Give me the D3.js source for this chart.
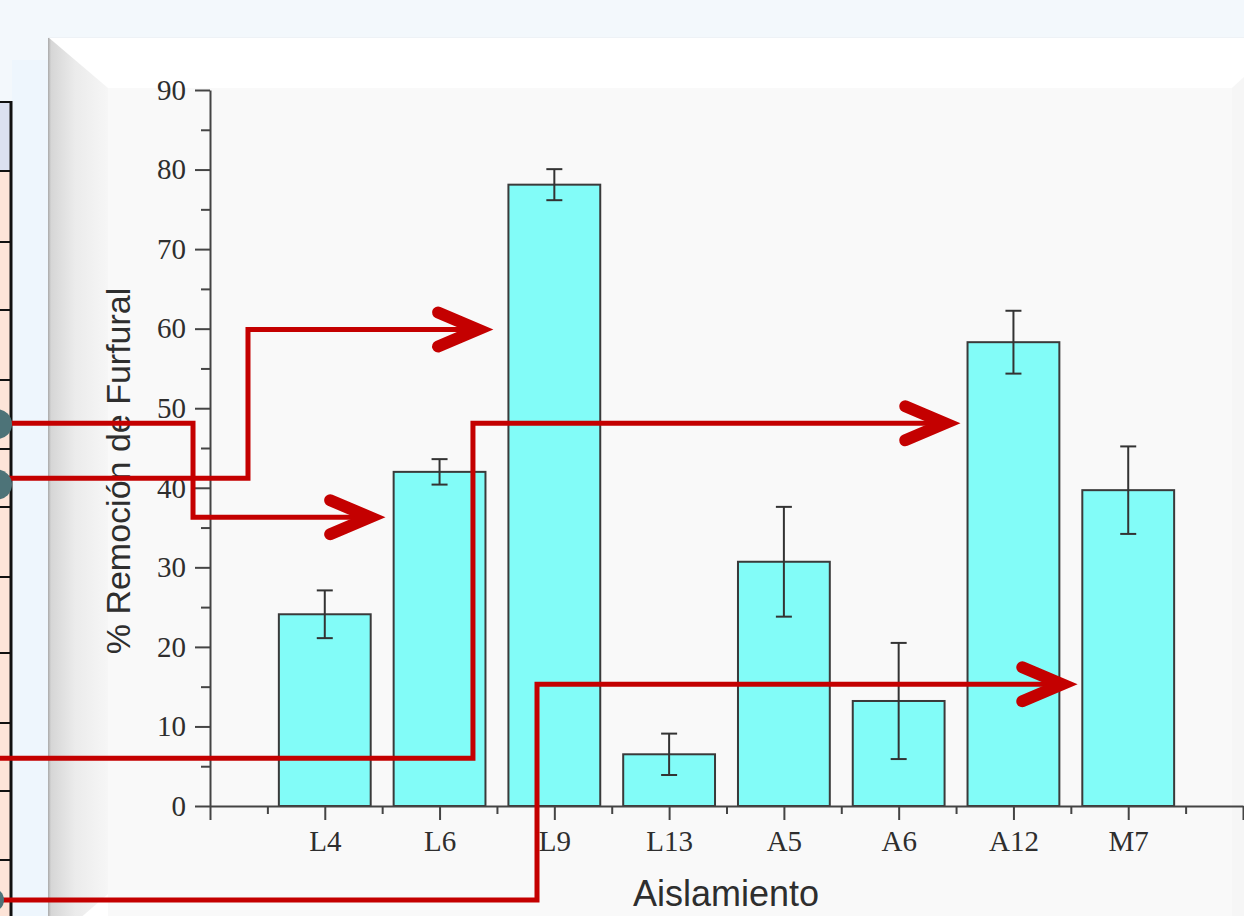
<!DOCTYPE html>
<html><head><meta charset="utf-8">
<script src="https://cdn.jsdelivr.net/npm/d3@7"></script>
<style>html,body{margin:0;padding:0;background:#f3f8fc;overflow:hidden}</style>
</head><body><svg id="c" width="1244" height="916"></svg>
<script>
// ---- data ----
const categories = ["L4", "L6", "L9", "L13", "A5", "A6", "A12", "M7"];
const removal = [24.1, 42.0, 78.1, 6.5, 30.7, 13.2, 58.3, 39.7];
const errors = [3.0, 1.6, 1.95, 2.6, 6.9, 7.3, 3.95, 5.5];
const yTicks = [0, 10, 20, 30, 40, 50, 60, 70, 80, 90];
const yMinorTicks = [5, 15, 25, 35, 45, 55, 65, 75, 85];
const xMajorTicks = [0, 1, 2, 3, 4, 5, 6, 7, 8, 9];
const xMinorTicks = [0.5, 1.5, 2.5, 3.5, 4.5, 5.5, 6.5, 7.5, 8.5];
const yTitle = "% Remoción de Furfural";
const xTitle = "Aislamiento";

// ---- drawing ----
const W = 1244, H = 916;
const svg = d3.select("#c");
const defs = svg.append("defs");

const x = d3.scaleLinear().domain([0, 9]).range([210, 1243]);
const y = d3.scaleLinear().domain([0, 90]).range([806, 90]);

// background decoration
svg.append("rect").attr("width", W).attr("height", H).attr("fill", "#f3f8fc");
// left table fragment
svg.append("rect").attr("x", 0).attr("y", 102).attr("width", 11).attr("height", H).attr("fill", "#fde4d8");
svg.append("rect").attr("x", 0).attr("y", 102).attr("width", 11).attr("height", 69).attr("fill", "#dce1f1");
svg.append("rect").attr("x", 12).attr("y", 60).attr("width", 36).attr("height", H).attr("fill", "#eef6fd");
const rowLines = [102, 171, 242, 310, 380, 449, 507, 577, 653, 723, 791, 860];
svg.selectAll("line.row").data(rowLines).join("line")
  .attr("x1", 0).attr("x2", 11).attr("y1", d => d).attr("y2", d => d)
  .attr("stroke", "#111").attr("stroke-width", 2);
svg.append("line").attr("x1", 11).attr("x2", 11).attr("y1", 101).attr("y2", H)
  .attr("stroke", "#111").attr("stroke-width", 3);

// panel
const lg = defs.append("linearGradient").attr("id", "bev").attr("x1", 0).attr("x2", 1).attr("y1", 0).attr("y2", 0);
lg.append("stop").attr("offset", "0%").attr("stop-color", "#a9a9a9");
lg.append("stop").attr("offset", "5%").attr("stop-color", "#d6d6d6");
lg.append("stop").attr("offset", "45%").attr("stop-color", "#ebebeb");
lg.append("stop").attr("offset", "100%").attr("stop-color", "#f6f6f6");
svg.append("rect").attr("x", 48).attr("y", 37).attr("width", W - 48).attr("height", H - 37).attr("fill", "#ffffff");
svg.append("rect").attr("x", 108).attr("y", 88).attr("width", W - 108).attr("height", H - 88).attr("fill", "#f9f9f9");
svg.append("polygon").attr("points", "48,37 108,88 108,894 48,946").attr("fill", "url(#bev)");
svg.append("polygon").attr("points", "1232,88 1244,77 1244,916 1232,916").attr("fill", "#f6f6f6");
svg.append("line").attr("x1", 48).attr("x2", W).attr("y1", 37.5).attr("y2", 37.5).attr("stroke", "#eef2f6").attr("stroke-width", 1);

const g = svg.append("g");

// bars
const band = (x(1) - x(0)) * 0.8;
g.selectAll("rect.bar").data(removal).join("rect")
  .attr("x", (d, i) => x(i + 1) - band / 2)
  .attr("y", d => y(d))
  .attr("width", band)
  .attr("height", d => y(0) - y(d))
  .attr("fill", "#82fcf8")
  .attr("stroke", "#3a3a3a")
  .attr("stroke-width", 2);

// error bars
const eb = g.selectAll("g.err").data(removal).join("g").attr("stroke", "#333").attr("stroke-width", 2);
eb.append("line").attr("x1", (d, i) => x(i + 1)).attr("x2", (d, i) => x(i + 1))
  .attr("y1", (d, i) => y(d + errors[i])).attr("y2", (d, i) => y(d - errors[i]));
eb.append("line").attr("x1", (d, i) => x(i + 1) - 8).attr("x2", (d, i) => x(i + 1) + 8)
  .attr("y1", (d, i) => y(d + errors[i])).attr("y2", (d, i) => y(d + errors[i]));
eb.append("line").attr("x1", (d, i) => x(i + 1) - 8).attr("x2", (d, i) => x(i + 1) + 8)
  .attr("y1", (d, i) => y(d - errors[i])).attr("y2", (d, i) => y(d - errors[i]));

// axes
function styleAxis(sel) {
  sel.selectAll("path.domain").attr("stroke", "#444").attr("stroke-width", 2);
  sel.selectAll(".tick line").attr("stroke", "#444").attr("stroke-width", 2);
  sel.selectAll("text").attr("fill", "#2e2e2e").style("font-family", "'Liberation Serif', 'Times New Roman', serif").style("font-size", "29px");
}
const yAxisMinor = g.append("g").attr("transform", `translate(${x(0)},0)`)
  .call(d3.axisLeft(y).tickValues(yMinorTicks).tickSize(9).tickFormat(""));
styleAxis(yAxisMinor); yAxisMinor.select(".domain").remove();
const yAxis = g.append("g").attr("transform", `translate(${x(0)},0)`)
  .call(d3.axisLeft(y).tickValues(yTicks).tickSize(15).tickSizeOuter(0).tickPadding(9).tickFormat(d3.format("d")));
styleAxis(yAxis);

const xAxisMinor = g.append("g").attr("transform", `translate(0,${y(0)})`)
  .call(d3.axisBottom(x).tickValues(xMinorTicks).tickSize(8).tickFormat(""));
styleAxis(xAxisMinor); xAxisMinor.select(".domain").remove();
const xAxis = g.append("g").attr("transform", `translate(0,${y(0)})`)
  .call(d3.axisBottom(x).tickValues(xMajorTicks).tickSize(14).tickSizeOuter(0).tickPadding(10)
    .tickFormat(d => (d >= 1 && d <= categories.length) ? categories[d - 1] : ""));
styleAxis(xAxis);

// titles
g.append("text").attr("x", 726).attr("y", 906).attr("text-anchor", "middle")
  .style("font-family", "'Liberation Sans', Arial, sans-serif").style("font-size", "36px").attr("fill", "#2e2e2e")
  .text(xTitle);
g.append("text").attr("transform", "translate(130,471) rotate(-90)").attr("text-anchor", "middle")
  .style("font-family", "'Liberation Sans', Arial, sans-serif").style("font-size", "34px").attr("fill", "#2e2e2e")
  .text(yTitle);

// annotation arrows (in data coordinates)
const arrows = [
  [[-2, 48.1], [-0.148, 48.1], [-0.148, 36.3], [1.5, 36.3]],
  [[-2, 41.2], [0.331, 41.2], [0.331, 59.9], [2.44, 59.9]],
  [[-2, 6.0], [2.291, 6.0], [2.291, 48.1], [6.51, 48.1]],
  [[-2, -11.8], [2.849, -11.8], [2.849, 15.3], [7.53, 15.3]]
];
const red = "#c40000";
const ag = svg.append("g");
arrows.forEach(pts => {
  const p = pts.map(([a, b]) => [x(a), y(b)]);
  const tip = p[p.length - 1];
  const vx = tip[0] - 12;
  p[p.length - 1] = [vx, tip[1]];
  ag.append("path").attr("d", d3.line()(p)).attr("fill", "none").attr("stroke", red).attr("stroke-width", 5);
  ag.append("path").attr("d", `M${vx - 40},${tip[1] - 17}L${vx},${tip[1]}L${vx - 40},${tip[1] + 17}`)
    .attr("fill", "none").attr("stroke", red).attr("stroke-width", 12)
    .attr("stroke-linecap", "round").attr("stroke-linejoin", "miter");
});
// connector dots on the left edge
const dots = [[-3, 48.0, 15], [-3, 40.4, 15], [-8, -11.8, 12]];
svg.selectAll("circle.dot").data(dots).join("circle")
  .attr("cx", d => d[0]).attr("cy", d => y(d[1])).attr("r", d => d[2]).attr("fill", "#4d7378");
</script>
</body></html>
